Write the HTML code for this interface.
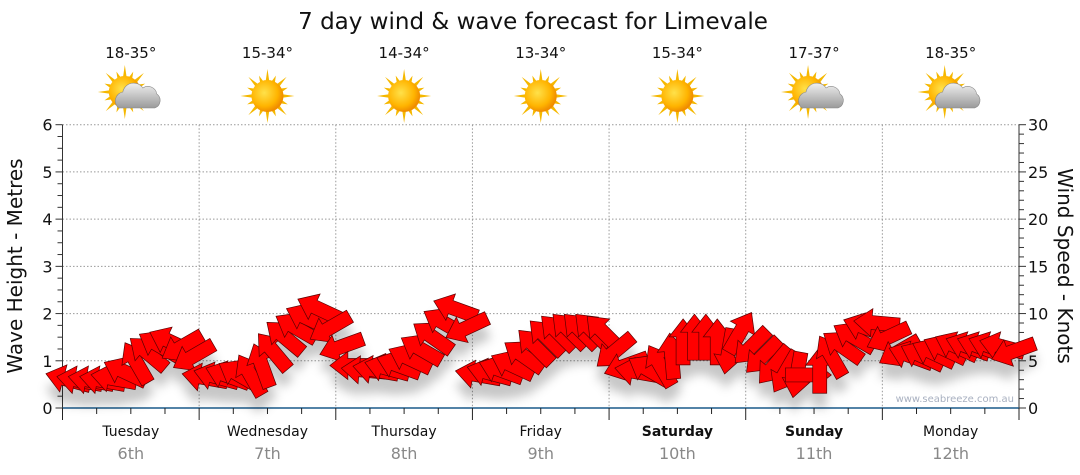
<!DOCTYPE html>
<html><head><meta charset="utf-8"><style>
body{margin:0;background:#fff;}
svg{display:block;font-family:"DejaVu Sans","Liberation Sans",sans-serif;}
</style></head><body>
<svg id="chart" width="1080" height="475" viewBox="0 0 1080 475">
<defs>
<filter id="sh" x="-20%" y="-20%" width="140%" height="180%"><feDropShadow dx="0" dy="14" stdDeviation="5" flood-color="#000" flood-opacity="0.22"/></filter>
<radialGradient id="sun" cx="40%" cy="40%" r="60%"><stop offset="0" stop-color="#ffe14a"/><stop offset="0.7" stop-color="#ffb400"/><stop offset="1" stop-color="#f08c00"/></radialGradient>
<linearGradient id="cl" x1="0" y1="0" x2="0" y2="1"><stop offset="0" stop-color="#f0f0f0"/><stop offset="1" stop-color="#9a9a9a"/></linearGradient>
</defs>
<text x="533" y="29" font-size="23" text-anchor="middle" fill="#111">7 day wind &amp; wave forecast for Limevale</text>
<g id="grid"></g>
<g id="axes"></g>
<g id="days"></g>
<g id="arrows" filter="url(#sh)"></g>
<text transform="translate(22,266) rotate(-90)" font-size="20" text-anchor="middle" fill="#111">Wave Height - Metres</text>
<text transform="translate(1058,266) rotate(90)" font-size="20" text-anchor="middle" fill="#111">Wind Speed - Knots</text>
<text x="1014" y="402" font-size="10" text-anchor="end" fill="#a8b0c0">www.seabreeze.com.au</text>
</svg>
<script>
const dayNames=["Tuesday","Wednesday","Thursday","Friday","Saturday","Sunday","Monday"];
const dayDates=["6th","7th","8th","9th","10th","11th","12th"];
const dayBold=[false,false,false,false,true,true,false];
const temps=["18-35°","15-34°","14-34°","13-34°","15-34°","17-37°","18-35°"];
const cloudy=[true,false,false,false,false,true,true];
const leftTicks=[0,1,2,3,4,5,6];
const rightTicks=[0,5,10,15,20,25,30];
const windKnots=[3,2.9,2.9,2.9,3.1,3.8,4.8,5.8,6.6,7,6.5,5.5,
3.2,3.3,3.4,3.5,3.5,4.5,6,7.5,8.5,9.5,10.5,8.5,
6.5,4.5,4,4,4.2,4.5,5.2,6.2,7.5,9,10.5,8.5,
3.5,3.7,4,4.5,5.5,6.5,7.5,8,8.2,8.2,8.2,8,
6,4.5,3.8,4,4.5,5.5,7,7.5,7.5,7,6,8,
6.5,5.5,4.5,3.8,3.5,3.5,4,5.5,6.5,7.5,8.5,9,
7.5,6,5.5,5.5,5.8,6.2,6.5,6.5,6.5,6.5,6.5,6];
const windAngle=[15,10,10,10,10,25,60,40,30,25,-30,-30,
10,15,20,30,60,70,50,40,30,25,25,-30,
-20,0,5,10,15,20,25,30,35,30,20,-25,
10,15,20,25,35,45,45,45,45,45,45,45,
-40,-20,10,30,60,85,90,90,90,90,-80,120,
-45,-45,-50,-60,-80,180,90,60,35,30,20,5,
-25,-30,20,25,25,25,25,20,20,20,15,-20];
const NS="http://www.w3.org/2000/svg";
const X0=62.5,X1=1019,Y0=408,Y1=124.7,nDays=7,perDay=12;
const dayW=(X1-X0)/nDays;
function xt(t){return X0+t*dayW;}
function yM(m){return Y0-(Y0-Y1)*m/6;}
function yK(k){return Y0-(Y0-Y1)*k/30;}
function mk(tag,attrs,parent){const e=document.createElementNS(NS,tag);for(const a in attrs)e.setAttribute(a,attrs[a]);parent.appendChild(e);return e;}
const grid=document.getElementById('grid'),axes=document.getElementById('axes'),days=document.getElementById('days'),arrows=document.getElementById('arrows');
leftTicks.forEach(v=>{
 if(v>0){const l=mk('line',{x1:X0,x2:X1,y1:yM(v),y2:yM(v),stroke:'#999','stroke-dasharray':'1.5,2','stroke-width':1},grid);
 
 }
 const t=mk('text',{x:X0-10,y:yM(v)+6,'font-size':16,'text-anchor':'end',fill:'#111'},axes);t.textContent=v;
 
 
});
rightTicks.forEach(v=>{
 const t=mk('text',{x:X1+9,y:yK(v)+6,'font-size':16,'text-anchor':'start',fill:'#111'},axes);t.textContent=v;
 
 
});
for(let i=0;i<=24;i++){const y=yM(i/4);mk('line',{x1:X0-(i%4?5:7),x2:X0,y1:y,y2:y,stroke:'#333'},axes);}
for(let i=0;i<=30;i++){const y=yK(i);mk('line',{x1:X1,x2:X1+(i%5?5:7),y1:y,y2:y,stroke:'#333'},axes);}
mk('line',{x1:X0,x2:X0,y1:Y1,y2:Y0,stroke:'#333'},axes);
mk('line',{x1:X1,x2:X1,y1:Y1,y2:Y0,stroke:'#333'},axes);
mk('line',{x1:X0,x2:X1,y1:Y0,y2:Y0,stroke:'#1a5a8a','stroke-width':1.5},axes);
for(let d=0;d<=nDays;d++){
 if(d>0&&d<nDays){const l=mk('line',{x1:xt(d),x2:xt(d),y1:Y1,y2:Y0,stroke:'#999','stroke-dasharray':'1.5,2'},grid);
 
 }
 for(let q=0;q<4&&(d<nDays||q==0);q++){const x=xt(d+q/4);mk('line',{x1:x,x2:x,y1:Y0,y2:Y0+(q?6:12),stroke:'#222'},axes);}
}
for(let d=0;d<nDays;d++){
 const cx=xt(d+0.5);
 const n=mk('text',{x:cx,y:436,'font-size':14,'text-anchor':'middle',fill:'#111','font-weight':dayBold[d]?'bold':'normal'},days);n.textContent=dayNames[d];
 
 
 const dt=mk('text',{x:cx,y:459,'font-size':16,'text-anchor':'middle',fill:'#888'},days);dt.textContent=dayDates[d];
 
 
 const tp=mk('text',{x:cx,y:58,'font-size':15,'text-anchor':'middle',fill:'#111'},days);tp.textContent=temps[d];
 
 
 const g=mk('g',{},days);
 
 
 const sx=cloudy[d]?cx-6:cx,sy=cloudy[d]?92:96;
 for(let r=0;r<16;r++){const a=r*Math.PI/8,L=r%2?22:27;
  mk('polygon',{points:`${sx+Math.cos(a-0.12)*15},${sy+Math.sin(a-0.12)*15} ${sx+Math.cos(a)*L},${sy+Math.sin(a)*L} ${sx+Math.cos(a+0.12)*15},${sy+Math.sin(a+0.12)*15}`,fill:'#f5b800'},g);}
 mk('circle',{cx:sx,cy:sy,r:16,fill:'url(#sun)'},g);
 if(cloudy[d]){
  mk('path',{d:`M${cx-12},${108} a9,9 0 0 1 4,-16 a11,11 0 0 1 20,-4 a9,9 0 0 1 14,6 a8,8 0 0 1 -2,14 z`,fill:'url(#cl)',stroke:'#888','stroke-width':0.6},g);
 }
}
const total=nDays*perDay;
for(let i=0;i<total;i++){
 const x=xt((i+0.5)/perDay),y=yK(windKnots[i]);
 const p=mk('polygon',{points:'-23,0 -5,-14 -5,-7 23,-7 23,7 -5,7 -5,14',fill:'#ff0000',stroke:'#5a0000','stroke-width':0.7,transform:`translate(${x},${y}) rotate(${windAngle[i]})`},arrows);
 
 
}
</script>
</body></html>
